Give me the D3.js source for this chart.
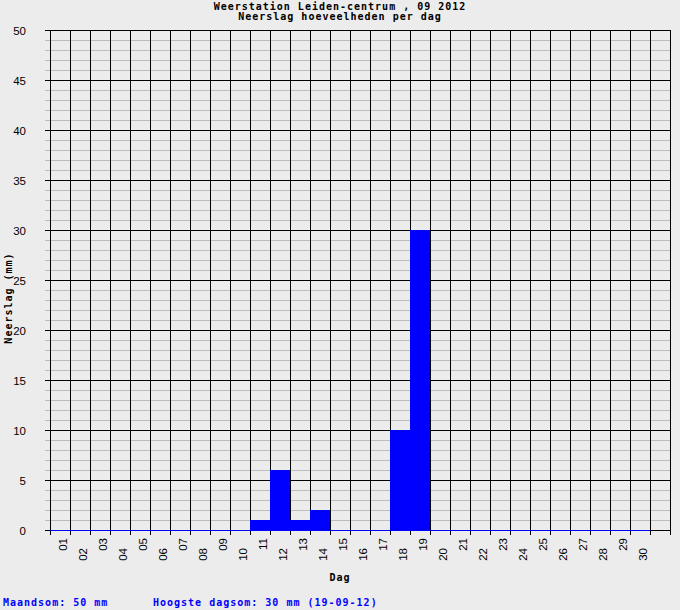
<!DOCTYPE html>
<html>
<head>
<meta charset="utf-8">
<script src="https://cdn.jsdelivr.net/npm/d3@7"></script>
<style>
html,body{margin:0;padding:0;background:#ececec;}
svg{display:block;}
</style>
</head>
<body>
<script>
const titleLines = ["Weerstation Leiden-centrum , 09 2012", "Neerslag hoeveelheden per dag"];
const days = ["01","02","03","04","05","06","07","08","09","10","11","12","13","14","15","16","17","18","19","20","21","22","23","24","25","26","27","28","29","30"];
const rain = [0,0,0,0,0,0,0,0,0,0,1,6,1,2,0,0,0,10,30,0,0,0,0,0,0,0,0,0,0,0];
const yTicks = [0,5,10,15,20,25,30,35,40,45,50];
const yLabel = "Neerslag (mm)";
const xLabel = "Dag";
const footLeft = "Maandsom: 50 mm";
const footRight = "Hoogste dagsom: 30 mm (19-09-12)";

const W = 680, H = 610;
const svg = d3.select("body").append("svg").attr("width", W).attr("height", H);
svg.append("rect").attr("width", W).attr("height", H).attr("fill", "#ececec");

const slots = days.length + 1;
const x = d3.scaleLinear().domain([0, slots]).range([50, 670]);
const y = d3.scaleLinear().domain([0, 50]).range([530, 30]);
const mono = "'DejaVu Sans Mono', 'Liberation Mono', monospace";
const sans = "'Liberation Sans', Arial, sans-serif";

// minor horizontal grid
const minor = d3.range(0, 51).filter(v => v % 5 !== 0);
svg.append("g").selectAll("line").data(minor).join("line")
  .attr("x1", 45).attr("x2", x(slots))
  .attr("y1", d => y(d) + 0.5).attr("y2", d => y(d) + 0.5)
  .attr("stroke", "#bdbdbd").attr("stroke-width", 1);

// major horizontal grid
svg.append("g").selectAll("line").data(yTicks).join("line")
  .attr("x1", 45).attr("x2", x(slots))
  .attr("y1", d => y(d) + 0.5).attr("y2", d => y(d) + 0.5)
  .attr("stroke", "#000").attr("stroke-width", 1);

// vertical grid lines with ticks
svg.append("g").selectAll("line").data(d3.range(0, slots + 1)).join("line")
  .attr("x1", d => x(d) + 0.5).attr("x2", d => x(d) + 0.5)
  .attr("y1", y(50)).attr("y2", y(0) + 5)
  .attr("stroke", "#000").attr("stroke-width", 1);

// bars
svg.append("g").selectAll("rect").data(rain).join("rect")
  .attr("x", (d, i) => x(i))
  .attr("width", (d, i) => x(i + 1) - x(i))
  .attr("y", d => y(d))
  .attr("height", d => y(0) - y(d) + 1)
  .attr("fill", "#0000ff");

// y tick labels
svg.append("g").selectAll("text").data(yTicks).join("text")
  .attr("x", 26).attr("y", d => y(d) + 5)
  .attr("text-anchor", "end")
  .attr("font-family", sans).attr("font-size", 11.5)
  .attr("fill", "#000")
  .text(d => d);

// x tick labels (rotated, staggered)
svg.append("g").selectAll("text").data(days).join("text")
  .attr("transform", (d, i) => {
    const cx = (x(i) + x(i + 1)) / 2 + 7;
    const ty = (i % 2 === 0) ? 538 : 548;
    return `translate(${cx},${ty}) rotate(-90)`;
  })
  .attr("text-anchor", "end")
  .attr("font-family", sans).attr("font-size", 11.5)
  .attr("fill", "#000")
  .text(d => d);

// titles
svg.append("g").selectAll("text").data(titleLines).join("text")
  .attr("x", 340).attr("y", (d, i) => 10 + i * 10)
  .attr("text-anchor", "middle")
  .attr("font-family", mono).attr("font-weight", "bold")
  .attr("font-size", 10).attr("letter-spacing", 1)
  .attr("fill", "#000")
  .text(d => d);

// axis labels
svg.append("text")
  .attr("transform", "translate(12,298) rotate(-90)")
  .attr("text-anchor", "middle")
  .attr("font-family", mono).attr("font-weight", "bold")
  .attr("font-size", 10).attr("letter-spacing", 1)
  .attr("fill", "#000").text(yLabel);

svg.append("text")
  .attr("x", 340).attr("y", 581)
  .attr("text-anchor", "middle")
  .attr("font-family", mono).attr("font-weight", "bold")
  .attr("font-size", 10).attr("letter-spacing", 1)
  .attr("fill", "#000").text(xLabel);

// footer
svg.append("text")
  .attr("x", 3).attr("y", 606)
  .attr("font-family", mono).attr("font-weight", "bold")
  .attr("font-size", 10).attr("letter-spacing", 1)
  .attr("fill", "#0000ff").text(footLeft);
svg.append("text")
  .attr("x", 153).attr("y", 606)
  .attr("font-family", mono).attr("font-weight", "bold")
  .attr("font-size", 10).attr("letter-spacing", 1)
  .attr("fill", "#0000ff").text(footRight);
</script>
</body>
</html>
